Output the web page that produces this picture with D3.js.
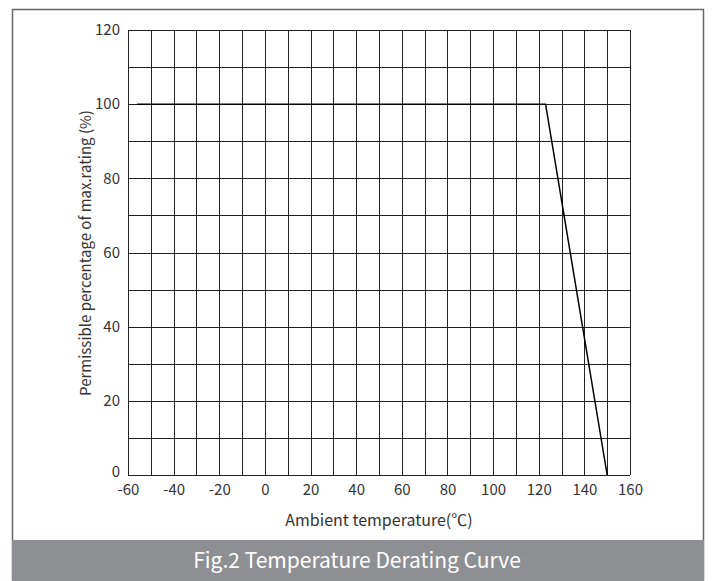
<!DOCTYPE html>
<html>
<head>
<meta charset="utf-8">
<script src="https://cdn.jsdelivr.net/npm/d3@7"></script>
<style>
  body { margin: 0; background: #fff; }
  text { font-family: "Noto Sans CJK SC", "Noto Sans", sans-serif; }
</style>
</head>
<body>
<script>
const width = 713;
const height = 581;
const margin = {top: 30, right: 83, bottom: 106, left: 128};

// derating curve: temperature (°C) vs permissible % of max rating
const temps = [-56, 123, 150];
const percents = [100, 100, 0];
const xTicks = [-60, -40, -20, 0, 20, 40, 60, 80, 100, 120, 140, 160];
const yTicks = [0, 20, 40, 60, 80, 100, 120];
const xGrid = d3.range(-60, 161, 10);
const yGrid = d3.range(0, 121, 10);

const svg = d3.select("body").append("svg")
    .attr("width", width)
    .attr("height", height);

// frame and caption bar
svg.append("rect")
    .attr("x", 12.5).attr("y", 9.5)
    .attr("width", 691).attr("height", 570)
    .attr("fill", "none")
    .attr("stroke", "#666")
    .attr("stroke-width", 1.5);
svg.append("rect")
    .attr("x", 12).attr("y", 540)
    .attr("width", 692).attr("height", 41)
    .attr("fill", "#8e8f93");
svg.append("text")
    .attr("x", 357).attr("y", 568)
    .attr("text-anchor", "middle")
    .attr("fill", "#fff")
    .attr("font-size", 21)
    .text("Fig.2 Temperature Derating Curve");

const x = d3.scaleLinear()
    .domain([-60, 160])
    .range([margin.left, width - margin.right]);
const y = d3.scaleLinear()
    .domain([0, 120])
    .range([height - margin.bottom, margin.top]);

// grid
svg.append("g").selectAll("line").data(xGrid).join("line")
    .attr("x1", d => Math.round(x(d)) + 0.5)
    .attr("x2", d => Math.round(x(d)) + 0.5)
    .attr("y1", y(0)).attr("y2", y(120))
    .attr("stroke", "#222");
svg.append("g").selectAll("line").data(yGrid).join("line")
    .attr("y1", d => Math.round(y(d)) + 0.5)
    .attr("y2", d => Math.round(y(d)) + 0.5)
    .attr("x1", x(-60)).attr("x2", x(160))
    .attr("stroke", "#222");

// axes labels (no tick marks), plain hyphen for negatives
const xAxis = svg.append("g")
    .attr("transform", `translate(0,${y(0)})`)
    .call(d3.axisBottom(x).tickValues(xTicks).tickFormat(d => String(d)).tickSize(0).tickPadding(9));
const yAxis = svg.append("g")
    .attr("transform", `translate(${x(-60)},0)`)
    .call(d3.axisLeft(y).tickValues(yTicks).tickFormat(d => String(d)).tickSize(0).tickPadding(8));
[xAxis, yAxis].forEach(a => {
  a.select(".domain").remove();
  a.selectAll("text")
      .attr("font-family", "\"Noto Sans CJK SC\", sans-serif")
      .attr("font-size", 15)
      .attr("fill", "#333");
});
yAxis.selectAll(".tick").filter(d => d === 0).select("text").attr("y", -3);

svg.append("text")
    .attr("x", 379).attr("y", 526)
    .attr("text-anchor", "middle")
    .attr("font-size", 16)
    .attr("fill", "#333")
    .text("Ambient temperature(℃)");
svg.append("text")
    .attr("transform", "translate(91,253) rotate(-90)")
    .attr("text-anchor", "middle")
    .attr("font-size", 15)
    .attr("fill", "#333")
    .text("Permissible percentage of max.rating (%)");

// curve
const line = d3.line()
    .x((d, i) => x(temps[i]))
    .y(d => y(d));
svg.append("path")
    .datum(percents)
    .attr("d", line)
    .attr("fill", "none")
    .attr("stroke", "#000")
    .attr("stroke-width", 1.5);
</script>
</body>
</html>
